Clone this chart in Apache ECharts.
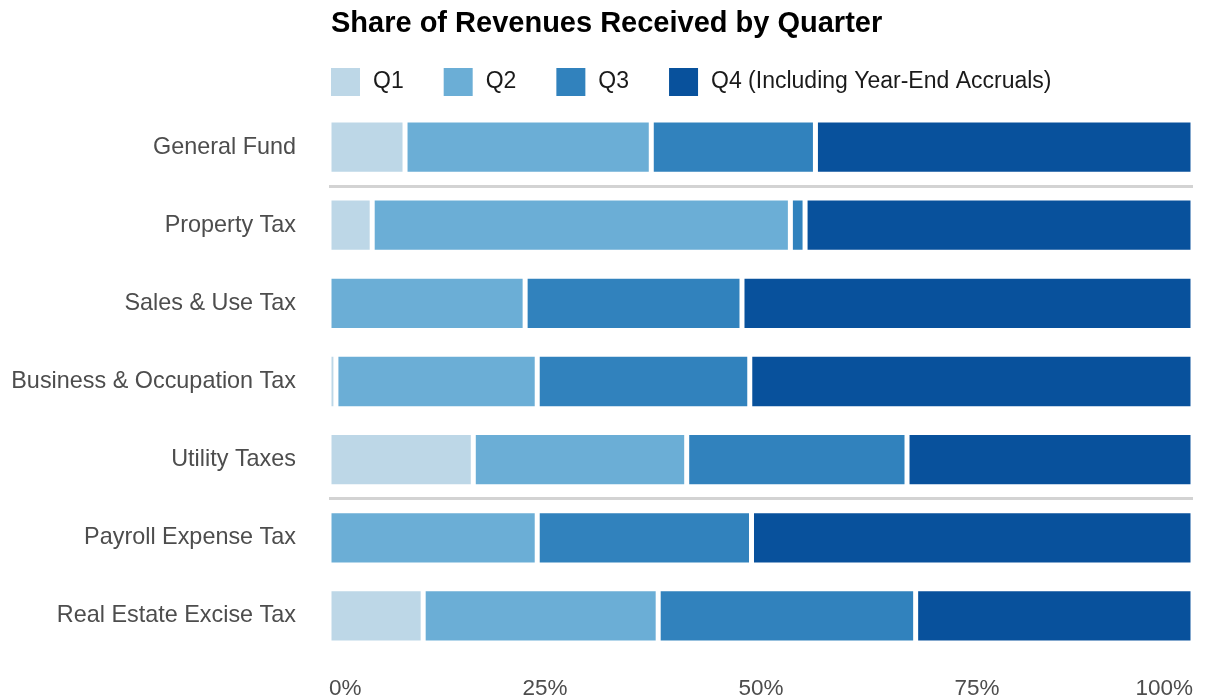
<!DOCTYPE html>
<html>
<head>
<meta charset="utf-8">
<script src="https://cdn.jsdelivr.net/npm/echarts@6/dist/echarts.min.js"></script>
<style>
  html, body { margin: 0; padding: 0; background: #ffffff; }
  #chart { width: 1207px; height: 700px; }
</style>
</head>
<body>
<div id="chart"></div>
<script>
// Revenue sources, top to bottom
const categories = [
  'General Fund',
  'Property Tax',
  'Sales & Use Tax',
  'Business & Occupation Tax',
  'Utility Taxes',
  'Payroll Expense Tax',
  'Real Estate Excise Tax'
];

// Quarter series names
const quarterNames = ['Q1', 'Q2', 'Q3', 'Q4 (Including Year-End Accruals)'];

// Share of annual revenue received in each quarter (%)
const q1Share = [8.8, 5.0, 0, 0.8, 16.7, 0, 10.9];
const q2Share = [28.5, 48.4, 22.7, 23.3, 24.7, 24.1, 27.2];
const q3Share = [19.0, 1.7, 25.1, 24.6, 25.5, 24.8, 29.8];
const q4Share = [43.7, 44.9, 52.2, 51.3, 33.1, 51.1, 32.1];

// Percent axis ticks
const xTicks = [0, 25, 50, 75, 100];

// Group separators are drawn below these rows
const dividersAfter = ['General Fund', 'Utility Taxes'];

const quarterColors = ['#bdd7e7', '#6baed6', '#3182bd', '#08519c'];
const shares = [q1Share, q2Share, q3Share, q4Share];
const FONT = 'Liberation Sans, Arial, sans-serif';

const chart = echarts.init(document.getElementById('chart'), null, { renderer: 'canvas' });

const barSeries = quarterNames.map((name, i) => ({
  name: name,
  type: 'bar',
  stack: 'share',
  barWidth: '69.5%',
  data: shares[i],
  itemStyle: {
    color: quarterColors[i],
    borderColor: '#ffffff',
    borderWidth: 2.5
  },
  emphasis: { disabled: true }
}));

// Horizontal rules separating category groups, placed on a hidden value axis
const dividerSeries = {
  name: 'dividers',
  type: 'line',
  xAxisIndex: 0,
  yAxisIndex: 1,
  data: [],
  silent: true,
  markLine: {
    silent: true,
    symbol: ['none', 'none'],
    label: { show: false },
    lineStyle: { color: '#d3d3d3', width: 3, type: 'solid' },
    data: dividersAfter.map(c => ({ yAxis: categories.indexOf(c) + 0.5 }))
  }
};

chart.setOption({
  animation: false,
  backgroundColor: '#ffffff',
  title: {
    text: 'Share of Revenues Received by Quarter',
    left: 326,
    top: 4,
    textStyle: { fontFamily: FONT, fontSize: 29, fontWeight: 'bold', color: '#000000' }
  },
  legend: {
    data: quarterNames,
    left: 326,
    top: 63,
    icon: 'rect',
    itemWidth: 29,
    itemHeight: 28,
    itemGap: 40,
    itemStyle: { borderWidth: 0 },
    textStyle: { fontFamily: FONT, fontSize: 23, color: '#1a1a1a', padding: [0, 0, 0, 8] }
  },
  grid: { left: 329, right: 14, top: 108, bottom: 43, containLabel: false },
  xAxis: {
    type: 'value',
    min: xTicks[0],
    max: xTicks[xTicks.length - 1],
    interval: xTicks[1] - xTicks[0],
    axisLine: { show: false },
    axisTick: { show: false },
    splitLine: { show: false },
    axisLabel: {
      formatter: '{value}%',
      fontFamily: FONT,
      fontSize: 22.5,
      color: '#4d4d4d',
      margin: 22,
      alignMinLabel: 'left',
      alignMaxLabel: 'right'
    }
  },
  yAxis: [
    {
      type: 'category',
      data: categories,
      inverse: true,
      axisLine: { show: false },
      axisTick: { show: false },
      splitLine: { show: false },
      axisLabel: { fontFamily: FONT, fontSize: 23.4, color: '#4d4d4d', margin: 33 }
    },
    {
      type: 'value',
      show: false,
      inverse: true,
      min: -0.5,
      max: categories.length - 0.5,
      splitLine: { show: false }
    }
  ],
  series: barSeries.concat([dividerSeries])
});
</script>
</body>
</html>
